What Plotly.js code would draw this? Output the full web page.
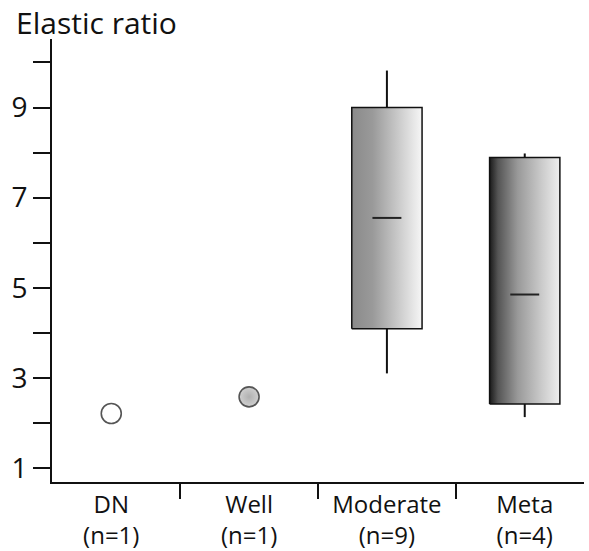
<!DOCTYPE html>
<html>
<head>
<meta charset="utf-8">
<script src="https://cdn.plot.ly/plotly-3.0.1.min.js"></script>
<style>html,body{margin:0;padding:0;background:#fff}#chart{width:589px;height:551px}</style>
</head>
<body>
<div id="chart"></div>
<script>
// ---- data ----
const categories = ['DN', 'Well', 'Moderate', 'Meta'];
const sampleSizes = ['(n=1)', '(n=1)', '(n=9)', '(n=4)'];
const singleValues = [2.21, 2.58, null, null];
const lowerFence = [null, null, 3.10, 2.13];
const q1 = [null, null, 4.09, 2.42];
const median = [null, null, 6.55, 4.85];
const q3 = [null, null, 9.00, 7.89];
const upperFence = [null, null, 9.82, 7.98];
const yMajorTicks = [1, 3, 5, 7, 9];
const yMinorTicks = [2, 4, 6, 8, 10];

// ---- styles ----
const boxHalf = 0.255;
const medHalf = 0.105;
const gradients = [
  null, null,
  [[0, '#8a8a8a'], [0.3, '#9a9a9a'], [0.7, '#cfcfcf'], [1, '#f6f6f6']],
  [[0, '#1a1a1a'], [0.12, '#555555'], [0.4, '#999999'], [0.75, '#cccccc'], [1, '#eeeeee']]
];
const pointFill = ['#ffffff', '#d0d0d0'];

const traces = [];
const idx = categories.map((c, i) => i);

// single points
idx.forEach(i => {
  if (singleValues[i] == null) return;
  traces.push({
    type: 'scatter', mode: 'markers', x: [i], y: [singleValues[i]],
    marker: {
      size: 20, color: pointFill[i],
      gradient: i === 1 ? {type: 'radial', color: '#b0b0b0'} : undefined,
      line: {color: '#555', width: 1.6}
    },
    hoverinfo: 'skip', showlegend: false
  });
});

// boxes
idx.forEach(i => {
  if (q1[i] == null) return;
  traces.push({
    type: 'scatter', mode: 'lines',
    x: [i, i, null, i, i],
    y: [q3[i], upperFence[i], null, q1[i], lowerFence[i]],
    line: {color: '#111', width: 2}, hoverinfo: 'skip', showlegend: false
  });
  traces.push({
    type: 'scatter', mode: 'lines',
    x: [i - boxHalf, i + boxHalf, i + boxHalf, i - boxHalf, i - boxHalf],
    y: [q1[i], q1[i], q3[i], q3[i], q1[i]],
    fill: 'toself',
    fillgradient: {type: 'horizontal', colorscale: gradients[i]},
    line: {color: '#111', width: 1.5}, hoverinfo: 'skip', showlegend: false
  });
  traces.push({
    type: 'scatter', mode: 'lines',
    x: [i - medHalf, i + medHalf], y: [median[i], median[i]],
    line: {color: '#222', width: 2}, hoverinfo: 'skip', showlegend: false
  });
});

const font = 'Open Sans, Lato, sans-serif';
const layout = {
  width: 589, height: 551,
  margin: {l: 52, r: 5, t: 39, b: 69},
  paper_bgcolor: '#fff', plot_bgcolor: '#fff',
  font: {family: font, color: '#111'},
  title: {
    text: 'Elastic ratio', font: {family: font, size: 30, color: '#111'},
    xref: 'container', yref: 'container', x: 16 / 589, xanchor: 'left',
    y: 1 - 23 / 551, yanchor: 'middle'
  },
  xaxis: {
    range: [-0.43, 3.43], fixedrange: true,
    tickmode: 'array', tickvals: idx,
    ticktext: categories.map((c, i) => c + '<br>' + sampleSizes[i]),
    ticks: '', tickfont: {family: font, size: 24, color: '#111'},
    showgrid: false, zeroline: false,
    showline: true, linecolor: '#111', linewidth: 2,
    minor: {tickmode: 'array', tickvals: idx.slice(1).map(i => i - 0.5),
            ticks: 'outside', ticklen: 15, tickwidth: 2, tickcolor: '#111', showgrid: false}
  },
  yaxis: {
    range: [0.69, 10.52], fixedrange: true,
    tickmode: 'array', tickvals: yMajorTicks, ticktext: yMajorTicks.map(String),
    ticks: 'outside', ticklen: 17, tickwidth: 2, tickcolor: '#111',
    tickfont: {family: font, size: 28, color: '#111'},
    showgrid: false, zeroline: false,
    showline: true, linecolor: '#111', linewidth: 2,
    minor: {tickmode: 'array', tickvals: yMinorTicks,
            ticks: 'outside', ticklen: 17, tickwidth: 2, tickcolor: '#111', showgrid: false}
  },
  showlegend: false
};

Plotly.newPlot('chart', traces, layout, {staticPlot: true, displayModeBar: false});
</script>
</body>
</html>
